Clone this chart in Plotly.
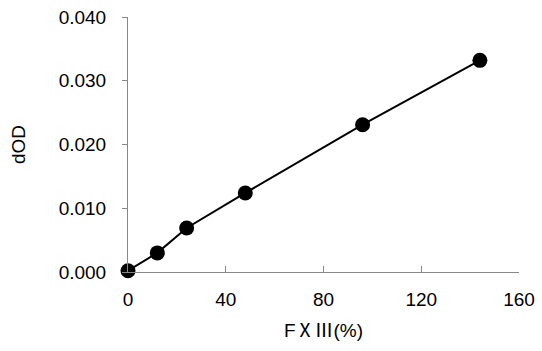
import plotly.graph_objects as go

fxiii = [0, 12, 24, 48, 96, 144]
dod = [0.0002, 0.0030, 0.0069, 0.0124, 0.0231, 0.0332]
x_ticks = [0, 40, 80, 120, 160]
y_ticks = [0.000, 0.010, 0.020, 0.030, 0.040]
y_tick_labels = ["0.000", "0.010", "0.020", "0.030", "0.040"]
x_title = "F<span style=\"font-family:'Noto Sans CJK JP'\">ⅩⅢ</span>(%)"
y_title = "dOD"

fig = go.Figure()
fig.add_trace(go.Scatter(
    x=fxiii, y=dod, mode="lines+markers",
    line=dict(color="black", width=2),
    marker=dict(color="black", size=15),
    cliponaxis=False,
))

font = "Liberation Sans, Arial, sans-serif"
fig.update_layout(
    width=542, height=351,
    margin=dict(l=128, r=23, t=17, b=79),
    paper_bgcolor="white", plot_bgcolor="white",
    showlegend=False,
    font=dict(family=font, size=19, color="black"),
    xaxis=dict(
        range=[0, 160], tickvals=x_ticks, ticks="inside", ticklen=6,
        tickcolor="#888", showline=True, linecolor="#888", linewidth=1,
        showgrid=False, zeroline=False, ticklabelstandoff=10,
        automargin=False,
        title=dict(text=x_title, font=dict(size=19), standoff=14),
    ),
    yaxis=dict(
        range=[0, 0.040], tickvals=y_ticks, ticktext=y_tick_labels,
        ticks="outside", ticklen=5, tickcolor="#888",
        showline=True, linecolor="#888", linewidth=1,
        showgrid=False, zeroline=False, ticklabelstandoff=12,
        automargin=False,
        title=dict(text=y_title, font=dict(size=19), standoff=28),
    ),
)
fig.write_html("out.html",
               config={"displayModeBar": False},
               post_script="document.body.style.margin='0';")
